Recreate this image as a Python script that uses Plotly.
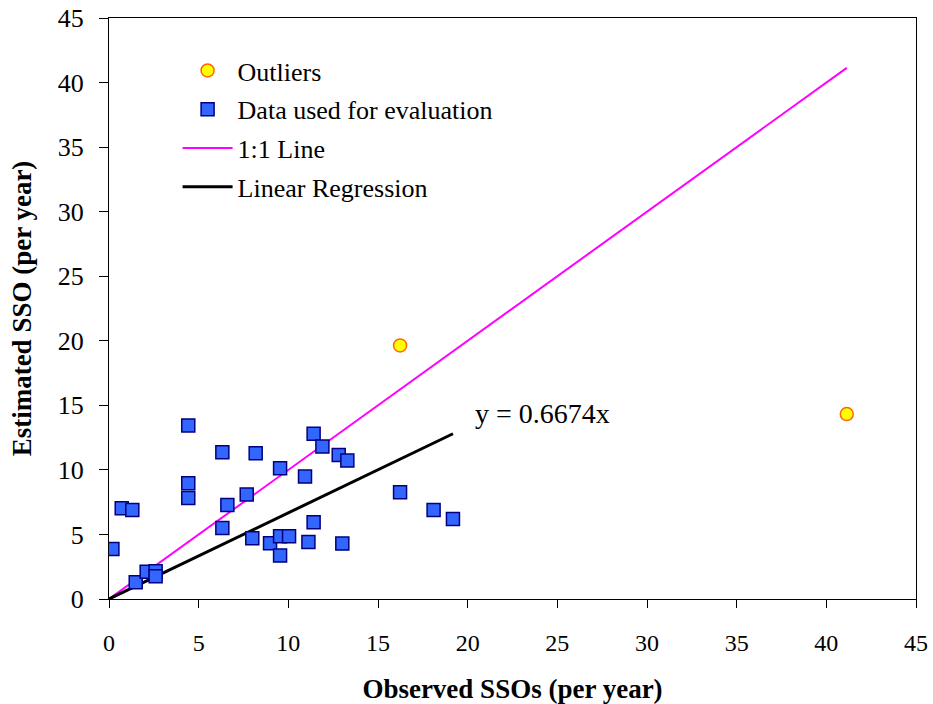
import plotly.graph_objects as go

# Evaluation data (observed, estimated SSOs per year)
obs_eval = [0.19, 0.71, 1.30, 1.49, 2.10, 2.60, 2.60, 4.42, 4.42, 4.42, 6.32, 6.32, 6.60, 7.68,
            7.99, 8.18, 8.98, 9.54, 9.54, 9.54, 10.04, 10.93, 11.12, 11.41, 11.41, 11.90, 12.81,
            13.01, 13.29, 16.23, 18.10, 19.18]
est_eval = [3.88, 7.03, 6.90, 1.29, 2.12, 2.14, 1.76, 13.44, 8.97, 7.83, 11.37, 5.50, 7.29, 8.09,
            4.70, 11.29, 4.32, 10.13, 4.86, 3.36, 4.86, 9.48, 4.42, 12.79, 5.94, 11.81, 11.16,
            4.29, 10.72, 8.27, 6.90, 6.20]

# Outliers
obs_out = [16.23, 41.14]
est_out = [19.64, 14.32]

slope = 0.6674
tick_vals = [0, 5, 10, 15, 20, 25, 30, 35, 40, 45]

FONT = "Liberation Serif"

one_x = [0, max(obs_eval + obs_out)]
reg_x = [0, max(obs_eval)]
reg_y = [slope * v for v in reg_x]

fig = go.Figure()
fig.add_trace(go.Scatter(
    x=one_x, y=one_x, mode="lines", name="1:1 Line", legendgroup="c", legendrank=3,
    line=dict(color="#FF00FF", width=2)))
fig.add_trace(go.Scatter(
    x=reg_x, y=reg_y, mode="lines", name="Linear Regression", legendgroup="d", legendrank=4,
    line=dict(color="#000000", width=3)))
fig.add_trace(go.Scatter(
    x=obs_out, y=est_out, mode="markers", name="Outliers", legendgroup="a", legendrank=1,
    marker=dict(symbol="circle", size=13, color="#FFFF00", line=dict(color="#FF6600", width=1.5))))
fig.add_trace(go.Scatter(
    x=obs_eval, y=est_eval, mode="markers", name="Data used for evaluation", legendgroup="b",
    legendrank=2,
    marker=dict(symbol="square", size=13, color="#3366FF", line=dict(color="#000080", width=1.5))))

fig.add_annotation(x=20.3, y=14.4, text="y = 0.6674x", showarrow=False, xanchor="left",
                   yanchor="middle", font=dict(family=FONT, size=28, color="black"))

axis_common = dict(
    showgrid=False, zeroline=False, showline=True, linecolor="black", linewidth=1,
    mirror=True, ticks="outside", tickcolor="black", automargin=False,
    tickvals=tick_vals, range=[0, 45], ticklabeloverflow="allow",
)

fig.update_xaxes(**axis_common, ticklen=8, ticklabelstandoff=14,
                 tickfont=dict(family=FONT, size=24, color="black"),
                 title=dict(text="<b>Observed SSOs (per year)</b>",
                            font=dict(family=FONT, size=27, color="black"), standoff=24))
fig.update_yaxes(**axis_common, ticklen=9, ticklabelstandoff=10,
                 tickfont=dict(family=FONT, size=26, color="black"),
                 title=dict(text="<b>Estimated SSO (per year)</b>",
                            font=dict(family=FONT, size=27, color="black"), standoff=18))

fig.update_layout(
    width=933, height=704,
    margin=dict(l=109, r=17, t=18, b=105),
    paper_bgcolor="white", plot_bgcolor="white",
    font=dict(family=FONT, color="black"),
    legend=dict(x=0.085, y=0.95, xanchor="left", yanchor="top", itemwidth=50,
                font=dict(family=FONT, size=26, color="black"),
                bgcolor="rgba(0,0,0,0)", traceorder="grouped", tracegroupgap=2),
)

# Remove the default page margin so the figure fills the window exactly.
fig.write_html("out.html",
               config={"displayModeBar": False},
               post_script="document.body.style.margin='0';document.body.style.overflow='hidden';")
